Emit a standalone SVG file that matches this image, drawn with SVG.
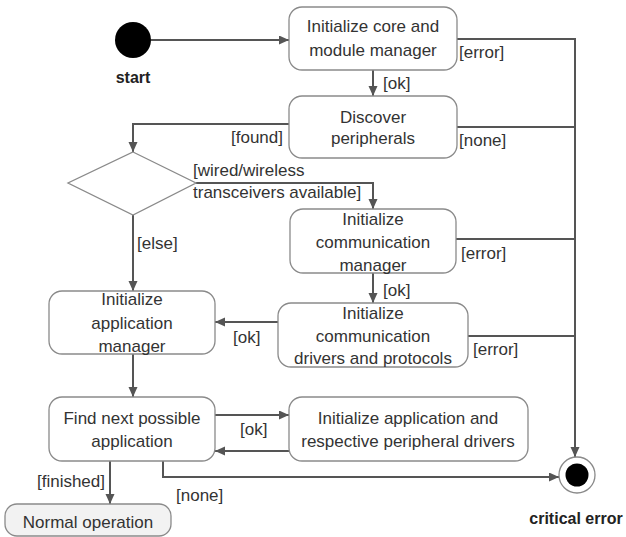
<svg xmlns="http://www.w3.org/2000/svg" width="626" height="537" viewBox="0 0 626 537">
<defs>
<marker id="arr" markerUnits="userSpaceOnUse" markerWidth="11" markerHeight="10" refX="10" refY="4.5" orient="auto">
<path d="M0,0 L10,4.5 L0,9 z" fill="#555"/>
</marker>
<style>
.box{fill:#fff;stroke:#8a8a8a;stroke-width:1.3}
.t{font-family:"Liberation Sans",Arial,sans-serif;font-size:17px;fill:#333}
.c{text-anchor:middle}
.b{font-weight:bold;font-size:16px;fill:#222}
.ln{fill:none;stroke:#555;stroke-width:2}
</style>
</defs>
<rect width="626" height="537" fill="#fff"/>

<g id="connectors">
<path class="ln" d="M151 40 H289" marker-end="url(#arr)"/>
<path class="ln" d="M373 70 V96" marker-end="url(#arr)"/>
<path class="ln" d="M457 39 H575 V457" marker-end="url(#arr)"/>
<path class="ln" d="M457 127 H575"/>
<path class="ln" d="M289 124 H133 V152" marker-end="url(#arr)"/>
<path class="ln" d="M196 183 H373 V209" marker-end="url(#arr)"/>
<path class="ln" d="M133 215 V291" marker-end="url(#arr)"/>
<path class="ln" d="M456 239 H575"/>
<path class="ln" d="M373 273 V303" marker-end="url(#arr)"/>
<path class="ln" d="M468 336 H575"/>
<path class="ln" d="M278 322 H215" marker-end="url(#arr)"/>
<path class="ln" d="M133 354 V397" marker-end="url(#arr)"/>
<path class="ln" d="M215 415 H289" marker-end="url(#arr)"/>
<path class="ln" d="M289 451 H215" marker-end="url(#arr)"/>
<path class="ln" d="M163 461 V477 H559" marker-end="url(#arr)"/>
<path class="ln" d="M110 461 V504" marker-end="url(#arr)"/>
<text class="t" x="383" y="89">[ok]</text>
<text class="t" x="459" y="58">[error]</text>
<text class="t" x="283" y="143" text-anchor="end">[found]</text>
<text class="t" x="459" y="146">[none]</text>
<text class="t" x="193" y="176">[wired/wireless</text>
<text class="t" x="193" y="198">transceivers available]</text>
<text class="t" x="137" y="249">[else]</text>
<text class="t" x="461" y="259">[error]</text>
<text class="t" x="383" y="296">[ok]</text>
<text class="t" x="473" y="355">[error]</text>
<text class="t" x="233" y="343">[ok]</text>
<text class="t" x="240" y="435">[ok]</text>
<text class="t" x="176" y="501">[none]</text>
<text class="t" x="105" y="487" text-anchor="end">[finished]</text>
</g>

<g id="start">
<circle cx="133" cy="40" r="18" fill="#000"/>
<text class="t b c" x="133" y="83">start</text>
</g>

<g id="init-core">
<rect class="box" x="289" y="7" width="168" height="63" rx="13"/>
<text class="t c" x="373" y="32">Initialize core and</text>
<text class="t c" x="373" y="56">module manager</text>
</g>

<g id="discover">
<rect class="box" x="289" y="96" width="168" height="62" rx="13"/>
<text class="t c" x="373" y="123">Discover</text>
<text class="t c" x="373" y="144">peripherals</text>
</g>

<g id="decision">
<polygon points="133,152 196,183 133,215 68,183" fill="#fff" stroke="#8a8a8a" stroke-width="1.3"/>
</g>

<g id="init-comm-manager">
<rect class="box" x="290" y="209" width="166" height="64" rx="13"/>
<text class="t c" x="373" y="225">Initialize</text>
<text class="t c" x="373" y="248">communication</text>
<text class="t c" x="373" y="271">manager</text>
</g>

<g id="init-comm-drivers">
<rect class="box" x="278" y="303" width="190" height="64" rx="13"/>
<text class="t c" x="373" y="319">Initialize</text>
<text class="t c" x="373" y="342">communication</text>
<text class="t c" x="373" y="364">drivers and protocols</text>
</g>

<g id="init-app-manager">
<rect class="box" x="49" y="291" width="166" height="63" rx="13"/>
<text class="t c" x="132" y="305">Initialize</text>
<text class="t c" x="132" y="329">application</text>
<text class="t c" x="132" y="352">manager</text>
</g>

<g id="find-next">
<rect class="box" x="49" y="397" width="166" height="64" rx="13"/>
<text class="t c" x="132" y="424">Find next possible</text>
<text class="t c" x="132" y="447">application</text>
</g>

<g id="init-app">
<rect class="box" x="289" y="397" width="239" height="64" rx="13"/>
<text class="t c" x="408" y="424">Initialize application and</text>
<text class="t c" x="408" y="447">respective peripheral drivers</text>
</g>

<g id="normal-operation">
<rect x="5" y="504" width="166" height="32" rx="12" fill="#f2f2f2" stroke="#8a8a8a" stroke-width="1.3"/>
<text class="t c" x="88" y="528">Normal operation</text>
</g>

<g id="critical-error">
<circle cx="577" cy="475" r="18" fill="#fff" stroke="#8a8a8a" stroke-width="1.3"/>
<circle cx="577" cy="475" r="11.5" fill="#000"/>
<text class="t b c" x="576" y="524">critical error</text>
</g>
</svg>
